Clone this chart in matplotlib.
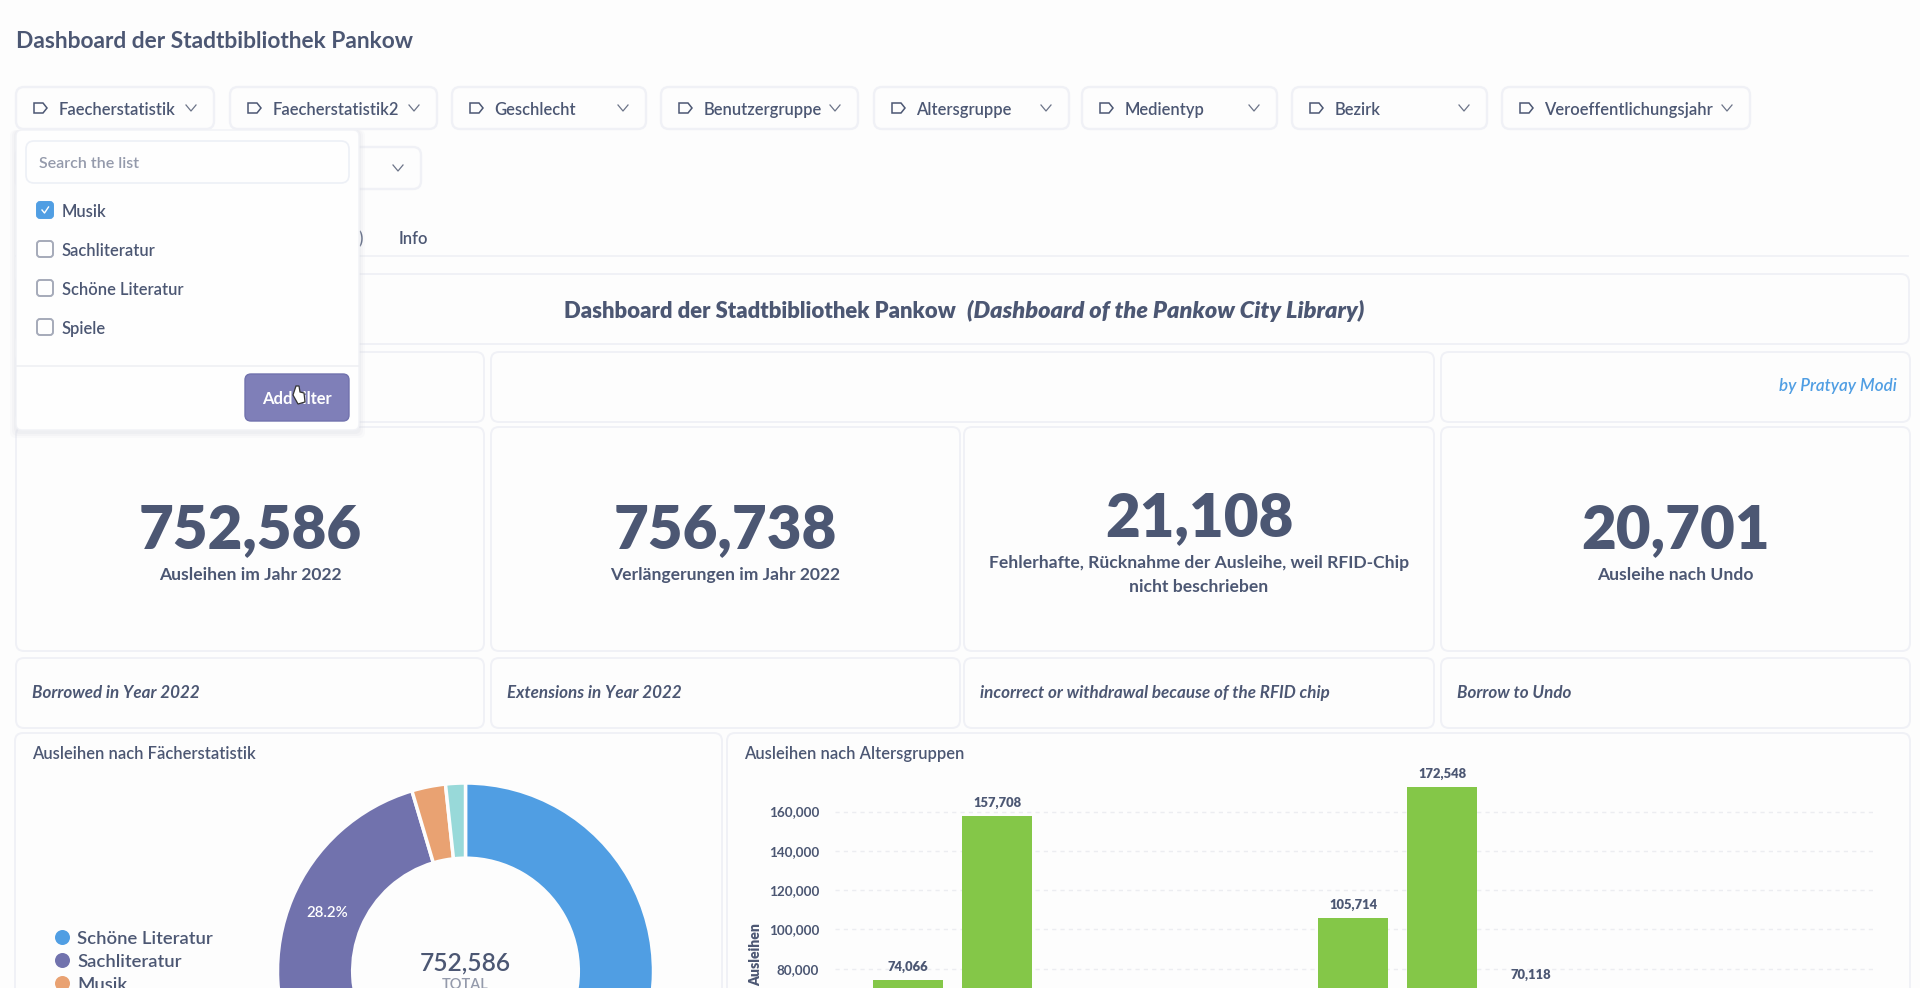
import numpy as np
import matplotlib
matplotlib.use('Agg')
import matplotlib.pyplot as plt
from matplotlib.patches import FancyBboxPatch, Polygon
from matplotlib.lines import Line2D

W, H = 1920, 988
INK = '#4C5773'
BORDER = '#F0F1F6'
BG = '#FDFDFD'

# filter buttons
filter_labels = ['Faecherstatistik', 'Faecherstatistik2', 'Geschlecht', 'Benutzergruppe',
                 'Altersgruppe', 'Medientyp', 'Bezirk', 'Veroeffentlichungsjahr']
filter_left = [16, 230, 452, 661, 874, 1082, 1292, 1502]
filter_right = [214, 437, 646, 858, 1069, 1277, 1487, 1750]
list_items = ['Musik', 'Sachliteratur', 'Schöne Literatur', 'Spiele']
list_checked = [True, False, False, False]

# kpi row
kpi_values = ['752,586', '756,738', '21,108', '20,701']
kpi_labels = ['Ausleihen im Jahr 2022', 'Verlängerungen im Jahr 2022',
              'Fehlerhafte, Rücknahme der Ausleihe, weil RFID-Chip\nnicht beschrieben',
              'Ausleihe nach Undo']
kpi_english = ['Borrowed in Year 2022', 'Extensions in Year 2022',
               'incorrect or withdrawal because of the RFID chip', 'Borrow to Undo']

# donut, shares in percent
subject_names = ['Schöne Literatur', 'Sachliteratur', 'Musik', 'Spiele']
subject_shares = [67.2, 28.2, 2.9, 1.7]
subject_colors = ['#509EE3', '#7172AD', '#E9A272', '#98D9D9']
subject_total = '752,586'

# bars, the ones in between are cut off by the bottom of the picture
age_loans = [74066, 157708, np.nan, np.nan, np.nan, 105714, 172548, 70118]
age_ticks = [80000, 100000, 120000, 140000, 160000]

plt.rcParams['font.family'] = ['Lato', 'DejaVu Sans']

fig = plt.figure(figsize=(W / 100, H / 100), dpi=100, facecolor=BG)
bg = fig.add_axes([0, 0, 1, 1])
bg.set_xlim(0, W)
bg.set_ylim(H, 0)
bg.axis('off')


def px(size):
    return size * 0.72


def card(x0, y0, x1, y1, fc=BG, ec=BORDER, r=8, lw=1.4, z=1, alpha=None):
    p = FancyBboxPatch((x0 + r, y0 + r), x1 - x0 - 2 * r, y1 - y0 - 2 * r,
                       boxstyle='round,pad=%d,rounding_size=%d' % (r, r),
                       fc=fc, ec=ec, lw=lw, zorder=z, alpha=alpha)
    bg.add_patch(p)


def text(x, y, s, size, color=INK, weight='normal', style='normal', ha='left', z=5):
    return bg.text(x, y, s, fontsize=px(size), color=color, fontweight=weight, fontstyle=style,
                   ha=ha, va='center', zorder=z)


def chevron(x, y):
    bg.add_line(Line2D([x - 5, x, x + 5], [y - 3, y + 3, y - 3], color='#6C7488', lw=0.9, zorder=5))


def tag_icon(x, y):
    bg.add_patch(Polygon([(x, y - 5), (x + 9, y - 5), (x + 13, y), (x + 9, y + 5), (x, y + 5)],
                         closed=True, fc='none', ec=INK, lw=1.1, zorder=5))


text(16, 42, 'Dashboard der Stadtbibliothek Pankow', 22.7, weight='bold')

# filter row
for lab, x0, x1 in zip(filter_labels, filter_left, filter_right):
    card(x0, 87, x1, 129, lw=1.7)
    tag_icon(x0 + 18, 108)
    text(x0 + 42.5, 110, lab, 16.5, weight='semibold')
    chevron(x1 - 23, 108)
card(16, 147, 421, 189, lw=1.7)
chevron(398, 168)

# tabs
text(361, 239, ')', 16.5, weight='semibold', ha='center')
text(399, 239, 'Info', 16.5, weight='semibold')
bg.plot([16, 1908], [256, 256], color=BORDER, lw=1.3, zorder=1)

# title card
card(16, 274, 1909, 344)
text(564, 311, 'Dashboard der Stadtbibliothek Pankow', 22.2, weight='heavy')
text(967, 311, '(Dashboard of the Pankow City Library)', 23.5, weight='heavy', style='italic')

# empty cards
card(16, 352, 484, 422)
card(491, 352, 1434, 422)
card(1441, 352, 1910, 422)
text(1897, 386, 'by Pratyay Modi', 17, color='#509EE3', weight='semibold', style='italic', ha='right')

# kpi cards
kpi_left = [16, 491, 964, 1441]
kpi_right = [484, 960, 1434, 1910]
kpi_value_y = [531, 531, 519, 531]
kpi_label_y = [575, 575, 575, 575]
for i in range(4):
    card(kpi_left[i], 427, kpi_right[i], 651)
    mid = (kpi_left[i] + kpi_right[i]) / 2
    text(mid, kpi_value_y[i], kpi_values[i], 60, weight='heavy', ha='center')
    t = text(mid, kpi_label_y[i], kpi_labels[i], 17.5, weight='bold', ha='center')
    t.set_linespacing(1.6)
    card(kpi_left[i], 658, kpi_right[i], 728)
    text(kpi_left[i] + 16, 693, kpi_english[i], 17, weight='bold', style='italic')

# chart cards
card(15, 733, 722, 1010)
card(727, 733, 1910, 1010)
text(32, 754, 'Ausleihen nach Fächerstatistik', 16.5, weight='semibold')
text(744, 754, 'Ausleihen nach Altersgruppen', 16.5, weight='semibold')

# dropdown over the filters, soft shadow below it
for grow, a in [(6, 0.10), (4, 0.14), (2, 0.18)]:
    card(16 - grow, 130, 359 + grow, 430 + grow + 2, fc='#D8DAE2', ec='none', r=6, lw=0, z=6, alpha=a)
card(16, 130, 359, 430, fc='#FEFEFE', ec='#F1F2F6', r=6, lw=1, z=7)
card(26, 141, 349, 183, fc='#FEFEFE', ec='#EDF0F6', lw=1.2, z=8)
text(39, 164, 'Search the list', 16, color='#949AAB', weight='semibold', z=9)
list_y = [210, 249, 288, 327]
for lab, on, y in zip(list_items, list_checked, list_y):
    card(37, y - 8, 53, y + 8, fc='#509EE3' if on else '#FEFEFE',
         ec='#509EE3' if on else '#A5AAB9', r=3, lw=1.4, z=8)
    if on:
        bg.add_line(Line2D([42, 44.5, 48.5], [y, y + 3, y - 3], color='white', lw=1, zorder=9))
    text(62, y + 1.5, lab, 16.5, weight='semibold', z=9)
bg.plot([16, 359], [366, 366], color='#EFF0F4', lw=1.2, zorder=8)
card(245, 374, 349, 421, fc='#7F7FB8', ec='#7172AD', r=6, lw=1, z=8)
text(297, 399, 'Add filter', 16.5, color='white', weight='bold', ha='center', z=9)
# mouse pointer sitting on the button
bg.add_patch(Polygon([(296, 386), (299, 386), (300, 392), (304, 393), (305, 402), (298, 404), (293, 395)],
                     closed=True, fc='white', ec='#333333', lw=0.9, zorder=10))


def chart_axes(x0, y0, x1, y1):
    return fig.add_axes([x0 / W, 1 - y1 / H, (x1 - x0) / W, (y1 - y0) / H], facecolor='none')


# donut
cx, cy, R = 465.5, 971, 188
ax = chart_axes(cx - R, cy - R, cx + R, cy + R)
wedges, _, autotexts = ax.pie(subject_shares, colors=subject_colors, startangle=90, counterclock=False,
                              radius=1, pctdistance=0.8,
                              autopct=lambda p: '%.1f%%' % p if 10 < p < 50 else '',
                              wedgeprops={'width': 0.4, 'edgecolor': BG, 'linewidth': 2.5})
for t in autotexts:
    t.set_color('white')
    t.set_fontsize(px(15))
    t.set_fontweight('semibold')
ax.set_xlim(-1, 1)
ax.set_ylim(-1, 1)
text(cx, 963, subject_total, 24.5, weight='semibold', ha='center')
text(cx, 985, 'TOTAL', 14.5, color='#949AAB', weight='semibold', ha='center')

legend_y = [937, 960, 983]
for name, col, y in zip(subject_names[:3], subject_colors, legend_y):
    bg.plot([62], [y], 'o', ms=px(15), color=col, mec='none', zorder=5)
    text(77, y + 1.5, name, 18.5, weight='semibold')

# bars
x0_bar, step = 908, 89
ax2 = chart_axes(835, 772.2, 1875, 1126)
xs = np.arange(len(age_loans))
ax2.bar(xs, age_loans, width=0.79, color='#84C748', zorder=3)
for x, v in zip(xs, age_loans):
    if not np.isnan(v):
        ax2.annotate(format(v, ','), (x, v), xytext=(0, 5), textcoords='offset points', ha='center',
                     va='bottom', fontsize=px(13), fontweight='heavy', color=INK, annotation_clip=False)
ax2.set_xlim((835 - x0_bar) / step, (1875 - x0_bar) / step)
ax2.set_ylim(0, 180000)
ax2.set_yticks(age_ticks)
ax2.set_yticklabels([format(t, ',') for t in age_ticks], fontsize=px(13.5), color=INK, fontweight='bold')
ax2.set_xticks([])
ax2.tick_params(axis='y', length=0, pad=11.5)
ax2.grid(axis='y', color='#ECEDF1', lw=1, ls=(0, (3, 3)), zorder=0)
for s in ax2.spines.values():
    s.set_visible(False)
bg.text(756, 923, 'Ausleihen', fontsize=px(14), color=INK, fontweight='heavy', rotation=90,
        ha='center', va='top', zorder=5)

fig.savefig('out.png', dpi=100, facecolor=BG)
